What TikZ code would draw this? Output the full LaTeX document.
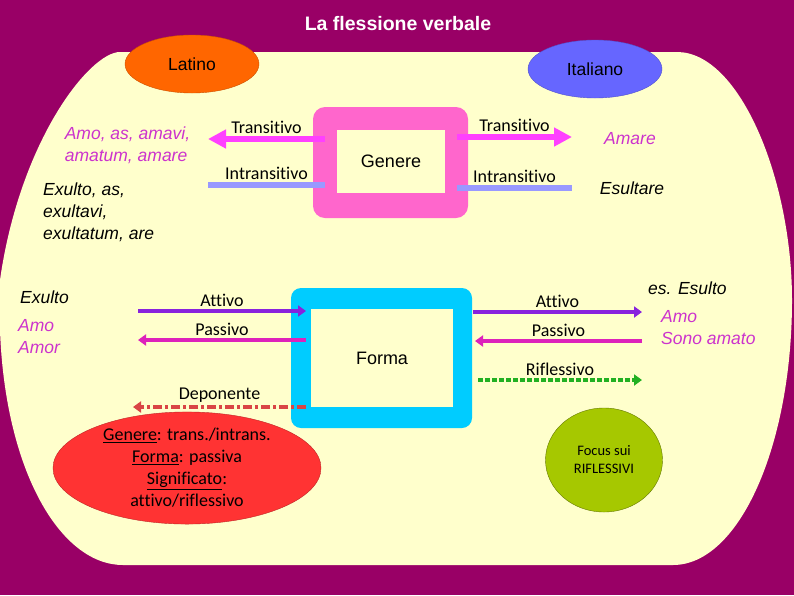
\documentclass[tikz,border=0pt]{standalone}
\usepackage{fontspec}
\setmainfont{Liberation Sans}
\newfontfamily\calibfont[Ligatures=NoCommon]{Carlito}
\usetikzlibrary{shapes.geometric,arrows.meta}
\definecolor{FlexPurple}{HTML}{990066}
\definecolor{FlexCream}{HTML}{FFFFCC}
\definecolor{FlexPink}{HTML}{FF66CC}
\definecolor{FlexCyan}{HTML}{00CCFF}
\definecolor{FlexOrange}{HTML}{FF6600}
\definecolor{FlexBlue}{HTML}{6666FF}
\definecolor{FlexRed}{HTML}{FF3333}
\definecolor{FlexOlive}{HTML}{A6C800}
\definecolor{FlexMagenta}{HTML}{CC33CC}
\definecolor{TransArrow}{HTML}{FF40FF}
\definecolor{IntransLine}{HTML}{9999FF}
\definecolor{AttArrow}{HTML}{8822DD}
\definecolor{PassArrow}{HTML}{DD22BB}
\definecolor{DepArrow}{HTML}{D94545}
\definecolor{RiflArrow}{HTML}{22B022}

\tikzset{
  lbl/.style={font=\calibfont\fontsize{18}{20}\selectfont,text=black,above=1.5pt,inner sep=1pt},
  verb/.style={font=\itshape\fontsize{17.5}{22}\selectfont,align=left,inner sep=0pt},
  lang/.style={ellipse,minimum width=134,minimum height=58,inner sep=0pt,
    font=\fontsize{17.5}{20}\selectfont},
  transarrow/.style={TransArrow,line width=6pt,-{Triangle[length=18pt,width=18pt]}},
  intransline/.style={IntransLine,line width=6pt},
  formarrow/.style={line width=4pt,-{Triangle[length=8pt,width=11pt]}}
}

\begin{document}
\begin{tikzpicture}[x=1pt,y=-1pt]
  \fill[FlexPurple] (0,0) rectangle (794,595);
  \useasboundingbox (0,0) rectangle (794,595);
  \fill[FlexCream] (120,52) -- (677,52) .. controls (740,52) and (792,180) .. (792,300)
    .. controls (792,446) and (739,565) .. (673,565) -- (123,565)
    .. controls (60,565) and (5,470) .. (0,330) -- (0,280)
    .. controls (20,140) and (90,52) .. (120,52) -- cycle;

  \node[text=white,font=\bfseries\fontsize{19.5}{22}\selectfont] (title) at (398,24)
    {La flessione verbale};
  \node[lang,fill=FlexOrange,draw=FlexOrange!80!black,thin] (latino) at (192,64) {Latino};
  \node[lang,fill=FlexBlue,draw=FlexBlue!80!black,thin] (italiano) at (595,69) {Italiano};

  % Genere
  \node[fill=FlexPink,rounded corners=12pt,minimum width=155,minimum height=111]
    (genbox) at (390.5,162.5) {};
  \node[fill=FlexCream,minimum width=108,minimum height=63,
    font=\fontsize{18}{20}\selectfont] (genere) at (391,161.5) {Genere};

  % Forma
  \node[fill=FlexCyan,rounded corners=10pt,minimum width=181,minimum height=140]
    (formbox) at (381.5,358) {};
  \node[fill=FlexCream,minimum width=142,minimum height=98,
    font=\fontsize{18}{20}\selectfont] (forma) at (382,358) {Forma};

  % verbi
  \node[verb,text=FlexMagenta] (amolat) at (127.5,145) {Amo, as, amavi,\\amatum, amare};
  \node[verb,anchor=west] (exultolat) at (43,212) {Exulto, as,\\exultavi,\\exultatum, are};
  \node[verb,text=FlexMagenta] (amare) at (630,139) {Amare};
  \node[verb] (esultare) at (632,188) {Esultare};
  \node[verb,anchor=west] (exulto) at (20,297) {Exulto};
  \node[verb,anchor=west,text=FlexMagenta] (amoamor) at (18,337) {Amo\\Amor};
  \node[verb,anchor=west] (esulto) at (648,288) {es. Esulto};
  \node[verb,anchor=west,text=FlexMagenta] (sonoamato) at (661,328) {Amo\\Sono amato};

  \node[ellipse,fill=FlexRed,draw=FlexRed!75!black,thin,minimum width=268,minimum height=102,
    inner sep=0pt,align=center,font=\calibfont\fontsize{18}{22}\selectfont] (deponente) at (187,468)
    {\underline{Genere}: trans./intrans.\\\underline{Forma}: passiva\\\underline{Significato}:\\attivo/riflessivo};
  \node[ellipse,fill=FlexOlive,draw=FlexOlive!60!black,thin,minimum width=117,minimum height=104,
    inner sep=0pt,align=center,font=\calibfont\fontsize{14.5}{18}\selectfont] (focus) at (604,460)
    {Focus sui\\RIFLESSIVI};

  % estremi delle frecce
  \coordinate (genTL) at (325,139);  \coordinate (latT) at (208,139);
  \coordinate (genIL) at (325,185);  \coordinate (latI) at (208,185);
  \coordinate (genTR) at (457,137);  \coordinate (itaT) at (572,137);
  \coordinate (genIR) at (457,188);  \coordinate (itaI) at (572,188);
  \coordinate (latA) at (138,311);   \coordinate (formAL) at (306,311);
  \coordinate (formPL) at (306,340); \coordinate (latP) at (138,340);
  \coordinate (formDL) at (306,407); \coordinate (latD) at (133,407);
  \coordinate (formAR) at (473,312); \coordinate (itaA) at (642,312);
  \coordinate (itaP) at (642,341);   \coordinate (formPR) at (475,341);
  \coordinate (formRR) at (478,380); \coordinate (itaR) at (642,380);

  \draw[transarrow] (genTL) -- node[lbl] {Transitivo} (latT);
  \draw[intransline] (genIL) -- node[lbl] {Intransitivo} (latI);
  \draw[transarrow] (genTR) -- node[lbl] {Transitivo} (itaT);
  \draw[intransline] (genIR) -- node[lbl] {Intransitivo} (itaI);

  \draw[formarrow,AttArrow] (latA) -- node[lbl] {Attivo} (formAL);
  \draw[formarrow,PassArrow] (formPL) -- node[lbl] {Passivo} (latP);
  \draw[formarrow,DepArrow,dash pattern=on 9pt off 3pt on 3pt off 3pt] (formDL)
    -- node[lbl] {Deponente} (latD);
  \draw[formarrow,AttArrow] (formAR) -- node[lbl] {Attivo} (itaA);
  \draw[formarrow,PassArrow] (itaP) -- node[lbl] {Passivo} (formPR);
  \draw[formarrow,RiflArrow,line width=3.5pt,dash pattern=on 5pt off 2pt] (formRR)
    -- node[lbl] {Riflessivo} (itaR);
\end{tikzpicture}
\end{document}
